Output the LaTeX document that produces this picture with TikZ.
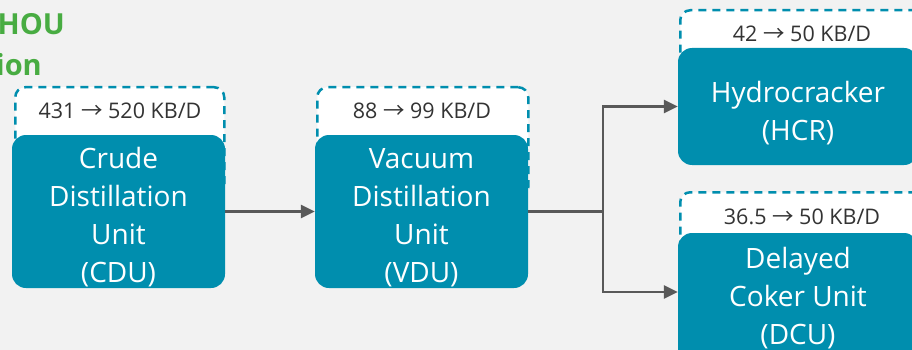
\documentclass[tikz,border=0pt]{standalone}
\usepackage{fontspec}
\setmainfont{Open Sans}
\newfontfamily\arrowfont{Noto Sans CJK KR}
\usetikzlibrary{arrows.meta}
\definecolor{unitteal}{RGB}{0,142,174}
\definecolor{bggray}{RGB}{242,242,242}
\definecolor{arrowgray}{RGB}{89,89,89}
\definecolor{greentxt}{RGB}{72,172,66}
\definecolor{labelgray}{RGB}{51,51,51}
\newcommand{\flowarr}{{\arrowfont →}}
\begin{document}
\begin{tikzpicture}[x=1pt,y=-1pt,
  dashbox/.style={draw=unitteal, fill=white, line width=2.5pt, dash pattern=on 8pt off 6pt, rounded corners=10pt, inner sep=0pt, anchor=north west},
  unitbox/.style={fill=unitteal, rounded corners=14pt, inner sep=0pt},
  unittext/.style={text=white, font=\fontsize{28}{38}\selectfont, align=center, inner sep=0pt},
  caplabel/.style={anchor=base, font=\fontsize{21.5}{24}\selectfont, text=labelgray, inner sep=0pt},
  flow/.style={draw=arrowgray, line width=2.5pt, -{Triangle[length=14pt,width=13pt]}},
  plainflow/.style={draw=arrowgray, line width=2.5pt},
  greenhead/.style={anchor=base east, font=\fontsize{29}{29}\selectfont\bfseries, text=greentxt, inner sep=0pt}]
\fill[bggray] (0,0) rectangle (912,350);
\useasboundingbox (0,0) rectangle (912,350);
\clip (0,0) rectangle (912,350);

% green heading fragments
\node[greenhead] (hd1) at (65,35) {HOU};
\node[greenhead] (hd2) at (42,76) {ion};

% dashed capacity boxes
\node[dashbox, minimum width=209pt, minimum height=110pt] (cdud) at (14,86) {};
\node[dashbox, minimum width=211pt, minimum height=110pt] (vdud) at (316,86) {};
\node[dashbox, minimum width=260pt, minimum height=100pt] (hcrd) at (679,9) {};
\node[dashbox, minimum width=260pt, minimum height=100pt] (dcud) at (679,191) {};

% capacity labels
\node[caplabel] (cdul) at (120,119) {431 \flowarr{} 520 KB/D};
\node[caplabel] (vdul) at (422,119) {88 \flowarr{} 99 KB/D};
\node[caplabel] (hcrl) at (802,42) {42 \flowarr{} 50 KB/D};
\node[caplabel] (dcul) at (802,224) {36.5 \flowarr{} 50 KB/D};

% unit boxes
\node[unitbox, minimum width=213pt, minimum height=153pt] (cdu) at (118.5,211.5) {};
\node[unitbox, minimum width=213pt, minimum height=153pt] (vdu) at (421.5,211.5) {};
\node[unitbox, minimum width=240pt, minimum height=117pt] (hcr) at (798,106.5) {};
\node[unitbox, minimum width=240pt, minimum height=153pt] (dcu) at (798,309.5) {};

\node[unittext] (cdut) at (118.5,217.5) {Crude\\Distillation\\Unit\\(CDU)};
\node[unittext] (vdut) at (421.5,217.5) {Vacuum\\Distillation\\Unit\\(VDU)};
\node[unittext] (hcrt) at (798,113.5) {Hydrocracker\\(HCR)};
\node[unittext] (dcut) at (798,298.5) {Delayed\\Coker Unit\\(DCU)};

% connectors
\coordinate (split) at (603,211.5);
\draw[flow] (cdu.east) -- (vdu.west);
\draw[plainflow] (vdu.east) -- (split);
\draw[flow] (split) |- (hcr.west);
\draw[flow] (split) |- ([yshift=17.5pt]dcu.west);
\end{tikzpicture}
\end{document}
